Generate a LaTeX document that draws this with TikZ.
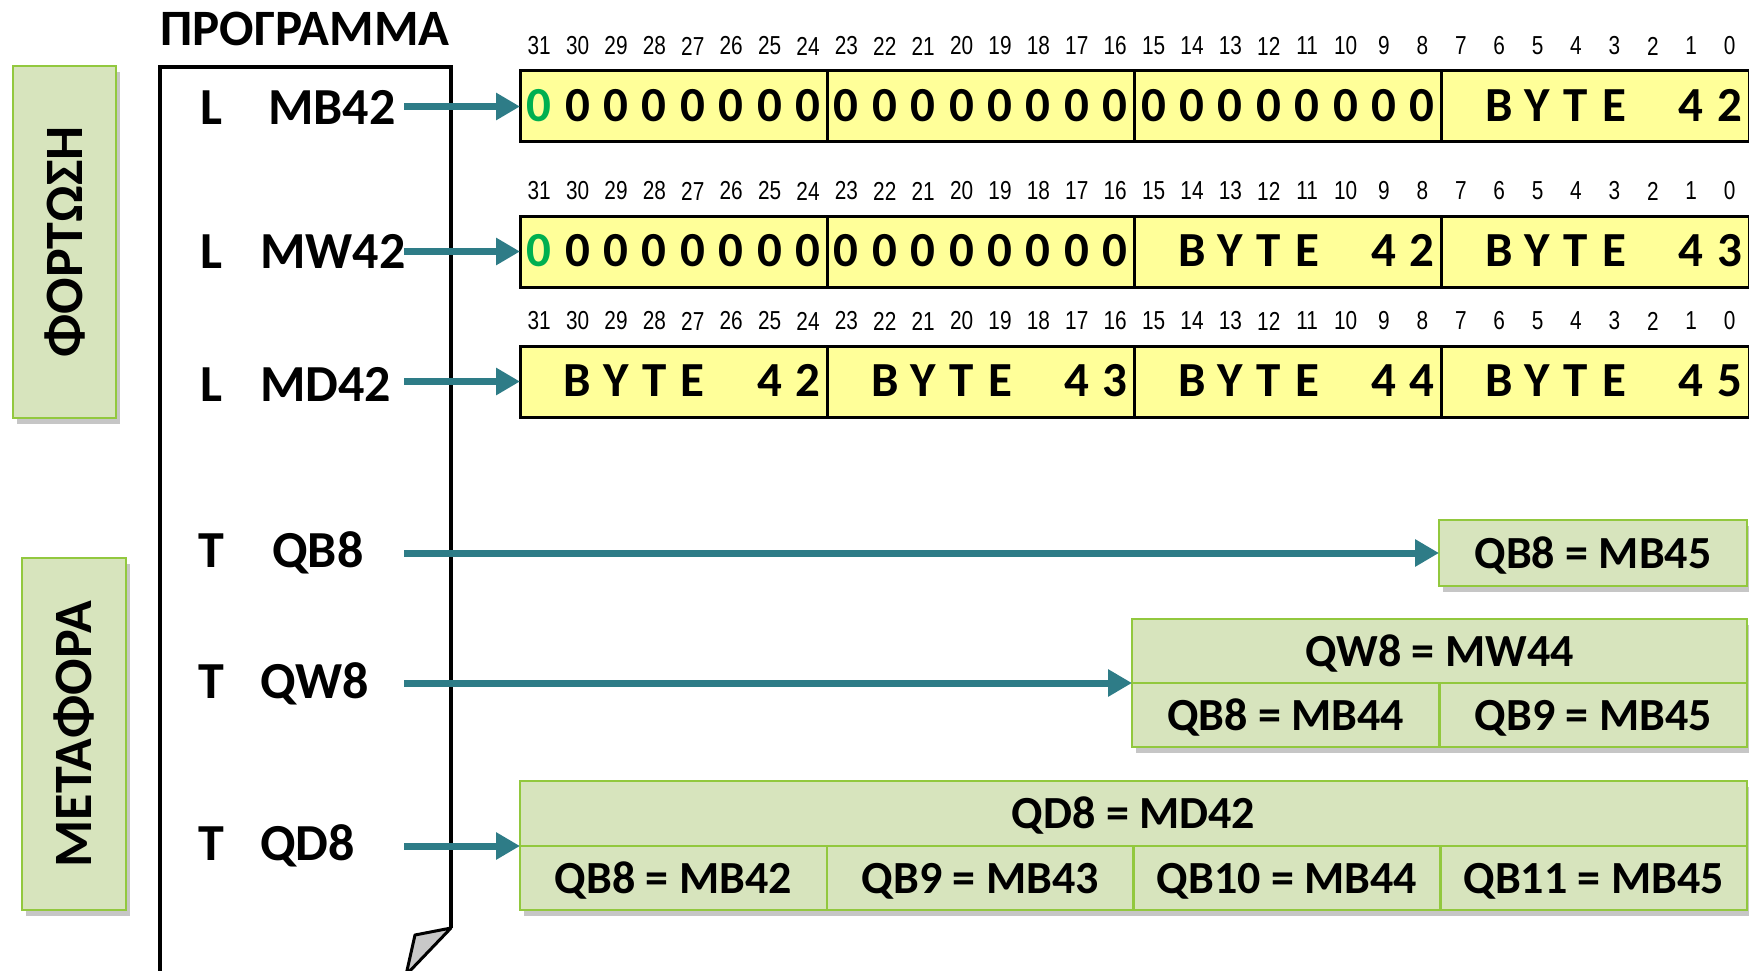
\documentclass[tikz,border=0pt]{standalone}
\usepackage{fontspec}
\setmainfont{Carlito}
\newfontfamily\bitfont[FakeStretch=0.8]{Liberation Sans}
\usetikzlibrary{arrows.meta,positioning,shadows}
\usepackage{xcolor}
\definecolor{byteyellow}{HTML}{FFFF99}
\definecolor{cellgreen}{HTML}{D7E4BD}
\definecolor{edgegreen}{HTML}{92C83E}
\definecolor{arrowteal}{HTML}{2E7C87}
\definecolor{zerogreen}{HTML}{00B050}
\definecolor{foldgray}{HTML}{C8C8C8}
\newcommand\bytetext[5]{%
  \foreach \j/\c in {6/B,5/Y,4/T,3/E,1/#4,0/#5}{
    \pgfmathtruncatemacro\b{8*#3+\j}
    \node[bitval] (c#1-\b) at ({bx(\b)},#2) {\c};}}

\begin{document}
\begin{tikzpicture}[x=1pt, y=-1pt,
    declare function={bx(\i)=520+(31.5-\i)*38.4;},
    bytebox/.style={draw, line width=3pt, fill=byteyellow, minimum width=307.25pt, minimum height=71pt, inner sep=0pt, outer sep=0pt, anchor=north west},
    bitnum/.style={font=\bitfont\fontsize{26}{26}\selectfont, inner sep=0pt},
    bitval/.style={font=\bfseries\fontsize{49}{49}\selectfont, inner sep=0pt, text height=30pt, text depth=0pt},
    gbox/.style={draw=edgegreen, line width=2.5pt, fill=cellgreen, inner sep=0pt, outer sep=0pt, font=\bfseries\fontsize{54}{54}\selectfont, drop shadow={shadow xshift=4pt, shadow yshift=-6pt, opacity=0.45}},
    cell/.style={gbox, anchor=north west, font=\bfseries\fontsize{46}{46}\selectfont, text height=30pt, text depth=0pt},
    instr/.style={font=\bfseries\fontsize{52}{52}\selectfont, inner sep=0pt},
    feed/.style={-{Triangle[length=24pt, width=26pt]}, line width=7pt, draw=arrowteal}]
  \useasboundingbox (0,0) rectangle (1749,971);

  \node[font=\bfseries\fontsize{51}{51}\selectfont] (title) at (305,29) {ΠΡΟΓΡΑΜΜΑ};
  \draw[line width=4.5pt] (451,928) -- (451,67) -- (160,67) -- (160,985);
  \filldraw[fill=foldgray, line width=3pt, line join=round] (451,928) -- (415,935) -- (406,975) -- cycle;

  \node[gbox, minimum width=103pt, minimum height=352pt] (load) at (64.5,242) {\rotatebox{90}{ΦΟΡΤΩΣΗ}};
  \node[gbox, minimum width=104pt, minimum height=352pt] (move) at (74,734) {\rotatebox{90}{ΜΕΤΑΦΟΡΑ}};

  \foreach \n/\o/\a/\x/\y in {mb42/L/MB42/268/124.5, mw42/L/MW42/260/268.5, md42/L/MD42/260/401.5,
      qb8i/T/QB8/272/567.5, qw8i/T/QW8/260/698.5, qd8i/T/QD8/260/860.5}{
    \node[instr, anchor=base] (\n-op) at (211,\y) {\o};
    \node[instr, anchor=base west] (\n) at (\x,\y) {\a};}

  \foreach \r/\top/\num in {1/71/46, 2/216/191, 3/346/321}{
    \foreach \k in {0,...,3}
      \node[bytebox] (dw\r-\k) at ({520+(3-\k)*307.25},\top) {};
    \foreach \i in {0,...,31}
      \node[bitnum] (n\r-\i) at ({bx(\i)},\num) {\i};}

  \foreach \i in {8,...,30}
    \node[bitval] (z1-\i) at ({bx(\i)},106.5) {0};
  \node[bitval, text=zerogreen] (z1-31) at ({bx(31)},106.5) {0};
  \bytetext{1}{106.5}{0}{4}{2}

  \foreach \i in {16,...,30}
    \node[bitval] (z2-\i) at ({bx(\i)},251.5) {0};
  \node[bitval, text=zerogreen] (z2-31) at ({bx(31)},251.5) {0};
  \bytetext{2}{251.5}{1}{4}{2}
  \bytetext{2}{251.5}{0}{4}{3}

  \bytetext{3}{381.5}{3}{4}{2}
  \bytetext{3}{381.5}{2}{4}{3}
  \bytetext{3}{381.5}{1}{4}{4}
  \bytetext{3}{381.5}{0}{4}{5}

  \node[cell, minimum width=308pt, minimum height=66pt] (qb8) at (1439,520) {QB8 = MB45};

  \node[cell, minimum width=615pt, minimum height=64pt] (qw8) at (1132,619) {QW8 = MW44};
  \node[cell, minimum width=307.5pt, minimum height=64pt] (qw8a) at (qw8.south west) {QB8 = MB44};
  \node[cell, minimum width=307.5pt, minimum height=64pt, right=0pt of qw8a] (qw8b) {QB9 = MB45};

  \node[cell, minimum width=1227pt, minimum height=65pt] (qd8) at (520,781) {QD8 = MD42};
  \node[cell, minimum width=306.75pt, minimum height=64pt] (qd8a) at (qd8.south west) {QB8 = MB42};
  \node[cell, minimum width=306.75pt, minimum height=64pt, right=0pt of qd8a] (qd8b) {QB9 = MB43};
  \node[cell, minimum width=306.75pt, minimum height=64pt, right=0pt of qd8b] (qd8c) {QB10 = MB44};
  \node[cell, minimum width=306.75pt, minimum height=64pt, right=0pt of qd8c] (qd8d) {QB11 = MB45};

  \coordinate (tap) at (404,0);
  \foreach \t in {dw1-3, dw2-3, dw3-3, qb8}
    \draw[feed] (tap |- \t.west) -- (\t.west);
  \foreach \t in {qw8, qd8}
    \draw[feed] (tap |- \t.south west) -- (\t.south west);
\end{tikzpicture}
\end{document}
